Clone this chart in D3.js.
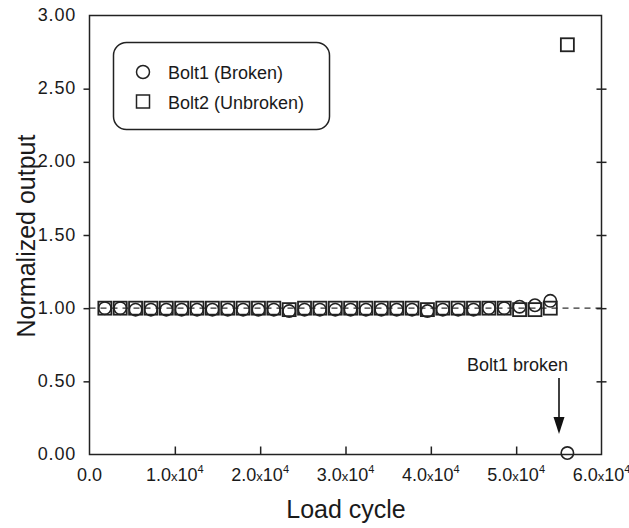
<!DOCTYPE html>
<html><head><meta charset="utf-8">
<script src="https://cdn.jsdelivr.net/npm/d3@7"></script>
<style>body{margin:0;background:#fff;} text{font-family:"Liberation Sans",Arial,Helvetica,sans-serif;fill:#1a1a1a;}</style>
</head><body><svg id="c" width="629" height="528"></svg>
<script>
const cycles = [1800,3600,5400,7200,9000,10800,12600,14400,16200,18000,19800,21600,23400,25200,27000,28800,30600,32400,34200,36000,37800,39600,41400,43200,45000,46800,48600,50400,52200,54000];
const bolt1 = [1.00,1.00,0.99,0.99,0.99,0.99,0.99,0.99,0.99,0.99,0.99,0.99,0.98,0.99,0.99,0.99,0.99,0.99,0.99,0.99,0.99,0.98,0.99,0.99,0.99,1.00,1.00,1.01,1.02,1.05];
const bolt2 = [1.00,1.00,1.00,1.00,1.00,1.00,1.00,1.00,1.00,1.00,1.00,1.00,0.99,1.00,1.00,1.00,1.00,1.00,1.00,1.00,1.00,0.99,1.00,1.00,1.00,1.00,1.00,0.99,0.99,1.00];
const bolt1Final = {x:56000, y:0.01};
const bolt2Final = {x:56000, y:2.80};
const xTicks = [0,10000,20000,30000,40000,50000,60000];
const xTickMant = ["0.0","1.0","2.0","3.0","4.0","5.0","6.0"];
const yTicks = [0,0.5,1,1.5,2,2.5,3];
const legendLabels = ["Bolt1 (Broken)","Bolt2 (Unbroken)"];
const annotation = "Bolt1 broken";

const svg = d3.select("#c");
const L=89.5, R=601.5, T=15.5, B=454.5;
const x = d3.scaleLinear().domain([0,60000]).range([L,R]);
const y = d3.scaleLinear().domain([0,3]).range([B,T]);
const ink="#222";

// reference dashed line
svg.append("line").attr("x1",L).attr("x2",R).attr("y1",y(1)).attr("y2",y(1))
  .attr("stroke","#333").attr("stroke-width",1.2).attr("stroke-dasharray","6,5");

// frame
svg.append("rect").attr("x",L).attr("y",T).attr("width",R-L).attr("height",B-T)
  .attr("fill","none").attr("stroke",ink).attr("stroke-width",1.5);

// bottom axis ticks (inward)
const xa = svg.append("g").attr("transform",`translate(0,${B})`)
  .call(d3.axisBottom(x).tickValues(xTicks.slice(1,-1)).tickSize(-8).tickFormat(""));
xa.select(".domain").remove();
xa.selectAll("line").attr("stroke",ink).attr("stroke-width",1.5);

// left axis ticks (outward)
const ya = svg.append("g").attr("transform",`translate(${L},0)`)
  .call(d3.axisLeft(y).tickValues(yTicks.slice(1,-1)).tickSize(6).tickFormat(""));
ya.select(".domain").remove();
ya.selectAll("line").attr("stroke",ink).attr("stroke-width",1.5);
// right ticks (crossing)
const ra = svg.append("g").attr("transform",`translate(${R},0)`)
  .call(d3.axisRight(y).tickValues(yTicks.slice(1,-1)).tickSize(5).tickFormat(""));
ra.select(".domain").remove();
ra.selectAll("line").attr("stroke",ink).attr("stroke-width",1.5).attr("x1",-5);

// y tick labels
svg.append("g").selectAll("text").data(yTicks).join("text")
  .attr("x",76).attr("y",d=>y(d)+5.5).attr("text-anchor","end").attr("font-size",18)
  .attr("letter-spacing",0.8)
  .text(d=>d3.format(".2f")(d));

// x tick labels
const xl = svg.append("g").selectAll("text").data(xTicks).join("text")
  .attr("x",d=>x(d)).attr("y",481).attr("text-anchor","middle").attr("font-size",18);
xl.each(function(d,i){
  const t=d3.select(this);
  t.append("tspan").text(xTickMant[i]);
  if(d!==0){
    t.append("tspan").attr("font-size",13).text("x");
    t.append("tspan").text("10");
    t.append("tspan").attr("font-size",11).attr("dy",-8).text("4");
  }
});

// axis titles
svg.append("text").attr("x",346).attr("y",518).attr("text-anchor","middle").attr("font-size",25).text("Load cycle");
svg.append("text").attr("transform","translate(35,236) rotate(-90)").attr("text-anchor","middle").attr("font-size",25).text("Normalized output");

// data
const d1 = cycles.map((c,i)=>({x:c,y:bolt1[i]})).concat([bolt1Final]);
const d2 = cycles.map((c,i)=>({x:c,y:bolt2[i]})).concat([bolt2Final]);
const s=13;
svg.append("g").selectAll("rect").data(d2).join("rect")
  .attr("x",d=>x(d.x)-s/2).attr("y",d=>y(d.y)-s/2).attr("width",s).attr("height",s)
  .attr("fill","none").attr("stroke",ink).attr("stroke-width",1.8);
svg.append("g").selectAll("circle").data(d1).join("circle")
  .attr("cx",d=>x(d.x)).attr("cy",d=>y(d.y)).attr("r",6.2)
  .attr("fill","none").attr("stroke",ink).attr("stroke-width",1.6);

// legend
svg.append("rect").attr("x",113.5).attr("y",42.5).attr("width",216).attr("height",87).attr("rx",13)
  .attr("fill","none").attr("stroke",ink).attr("stroke-width",1.5);
svg.append("circle").attr("cx",143).attr("cy",72).attr("r",6.5).attr("fill","none").attr("stroke",ink).attr("stroke-width",1.5);
svg.append("rect").attr("x",143-6.5).attr("y",101.5-6.5).attr("width",13).attr("height",13).attr("fill","none").attr("stroke",ink).attr("stroke-width",1.5);
svg.append("text").attr("x",168).attr("y",79).attr("font-size",18).text(legendLabels[0]);
svg.append("text").attr("x",168).attr("y",109).attr("font-size",18).text(legendLabels[1]);

// annotation
svg.append("text").attr("x",568).attr("y",371).attr("text-anchor","end").attr("font-size",18).text(annotation);
const ax = 559;
svg.append("line").attr("x1",ax).attr("x2",ax).attr("y1",378).attr("y2",420).attr("stroke","#111").attr("stroke-width",1.6);
svg.append("path").attr("d",`M${ax-5.5},417 L${ax+5.5},417 L${ax},434 Z`).attr("fill","#111");
</script></body></html>
